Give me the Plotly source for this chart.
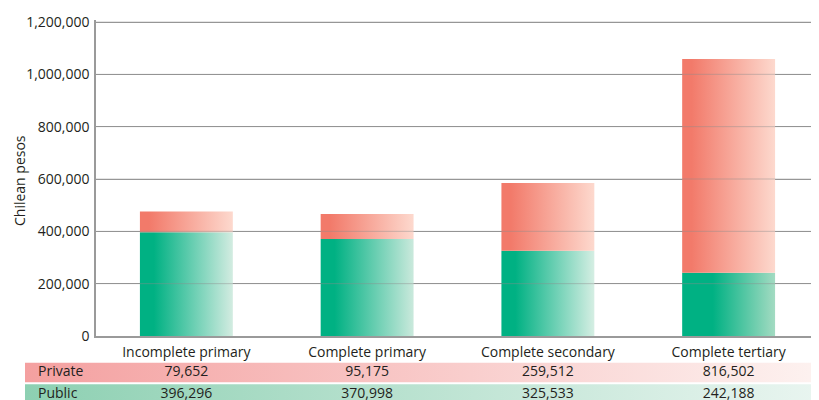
import plotly.graph_objects as go

# ---------------- data ----------------
categories = ["Incomplete primary", "Complete primary", "Complete secondary", "Complete tertiary"]
private = [79652, 95175, 259512, 816502]
public = [396296, 370998, 325533, 242188]
y_ticks = [0, 200000, 400000, 600000, 800000, 1000000, 1200000]
row_labels = ["Private", "Public"]
y_title = "Chilean pesos"

# ---------------- layout constants ----------------
# The page body has an 8px default margin; the figure is sized/offset to compensate.
OFF = 8
W, H = 819 - OFF, 400 - OFF
PLOT_L = 96 - OFF
PLOT_TOP = 22 - OFF
PLOT_BOTTOM = 336 - OFF
TOP_PAD = 2  # px of headroom so the top gridline is not clipped
TABLE_L = 25 - OFF
n = len(categories)
xr = [-0.5, n - 0.5]
px_per_unit = (W - PLOT_L) / n
x2r = [xr[0] - PLOT_L / px_per_unit, xr[1]]
table_x0 = xr[0] - (PLOT_L - TABLE_L) / px_per_unit
half = 0.257
y_top = y_ticks[-1] * (1 + TOP_PAD / (PLOT_BOTTOM - PLOT_TOP))

ROW_PITCH = 21.5
ROW0_CENTER = 372.5 - OFF
y2_top = -(ROW0_CENTER - PLOT_BOTTOM) / ROW_PITCH
y2_bot = (H - ROW0_CENTER) / ROW_PITCH
row_half = 0.45

FONT = "Open Sans"
TXT = "#231f20"
GRID = "#9a9a9a"

green_scales = [
    [[0, "#00b183"], [0.15, "#00b183"], [1, "#d3ece1"]],
    [[0, "#00b183"], [0.15, "#00b183"], [1, "#cae9dc"]],
    [[0, "#00b183"], [0.15, "#00b183"], [1, "#d5eee3"]],
    [[0, "#00b183"], [0.33, "#00b183"], [1, "#a3dbc2"]],
]
red_scale = [[0, "#f27a6a"], [0.1, "#f27a6a"], [1, "#fdd9ce"]]
table_scales = [
    [[0, "#f4a0a0"], [1, "#fdf2f0"]],
    [[0, "#8dd0b2"], [1, "#e9f5f0"]],
]

fig = go.Figure()

# bars as gradient-filled polygons on a numeric category axis
for i, (pu, pr) in enumerate(zip(public, private)):
    xs = [i - half, i + half, i + half, i - half, i - half]
    fig.add_trace(go.Scatter(
        x=xs, y=[0, 0, pu, pu, 0], fill="toself", mode="none",
        fillgradient=dict(type="horizontal", colorscale=green_scales[i]),
        hoverinfo="skip", showlegend=False))
    fig.add_trace(go.Scatter(
        x=xs, y=[pu, pu, pu + pr, pu + pr, pu], fill="toself", mode="none",
        fillgradient=dict(type="horizontal", colorscale=red_scale),
        hoverinfo="skip", showlegend=False))

# table rows
table_values = [private, public]
for r, (lab, vals) in enumerate(zip(row_labels, table_values)):
    xs = [table_x0, x2r[1], x2r[1], table_x0, table_x0]
    ys = [r - row_half, r - row_half, r + row_half, r + row_half, r - row_half]
    fig.add_trace(go.Scatter(
        x=xs, y=ys, xaxis="x2", yaxis="y2", fill="toself", mode="none",
        fillgradient=dict(type="horizontal", colorscale=table_scales[r]),
        hoverinfo="skip", showlegend=False))
    fig.add_trace(go.Scatter(
        x=[table_x0 + 13 / px_per_unit], y=[r], xaxis="x2", yaxis="y2",
        mode="text", text=[lab], textposition="middle right",
        textfont=dict(family=FONT, size=14, color=TXT),
        hoverinfo="skip", showlegend=False))
    fig.add_trace(go.Scatter(
        x=list(range(n)), y=[r] * n, xaxis="x2", yaxis="y2",
        mode="text", text=[f"{v:,}" for v in vals], textposition="middle center",
        textfont=dict(family=FONT, size=14, color=TXT),
        hoverinfo="skip", showlegend=False))

# gridlines drawn faintly above the bars
shapes = []
for t in y_ticks[1:]:
    shapes.append(dict(type="line", xref="x", yref="y", x0=xr[0], x1=xr[1], y0=t, y1=t,
                       line=dict(color="rgba(140,140,140,0.45)", width=1), layer="above"))

fig.update_layout(
    template="none",
    width=W, height=H, autosize=False,
    margin=dict(l=0, r=0, t=0, b=0, pad=0, autoexpand=False),
    paper_bgcolor="white", plot_bgcolor="white",
    font=dict(family=FONT, size=13, color=TXT),
    shapes=shapes,
    xaxis=dict(
        domain=[PLOT_L / W, 1], range=xr, tickmode="array", automargin=False,
        tickvals=list(range(n)), ticktext=categories,
        showgrid=False, zeroline=False, showline=True,
        linecolor=GRID, linewidth=2, ticks="", ticklabelstandoff=2,
        tickfont=dict(family=FONT, size=14, color=TXT), fixedrange=True),
    yaxis=dict(
        domain=[(H - PLOT_BOTTOM) / H, (H - (PLOT_TOP - TOP_PAD)) / H], range=[0, y_top],
        tickmode="array", tickvals=y_ticks, tickformat=",d", automargin=False,
        showgrid=True, gridcolor=GRID, gridwidth=1, zeroline=False,
        showline=True, linecolor=GRID, linewidth=1.5, ticks="", ticklabelstandoff=2,
        tickfont=dict(family=FONT, size=14, color=TXT), fixedrange=True),
    xaxis2=dict(domain=[0, 1], range=x2r, visible=False, anchor="y2", fixedrange=True,
                automargin=False),
    yaxis2=dict(domain=[0, (H - PLOT_BOTTOM) / H], range=[y2_bot, y2_top],
                visible=False, anchor="x2", fixedrange=True, automargin=False),
    annotations=[dict(text=y_title, xref="paper", yref="paper",
                      x=(19 - OFF) / W, y=(H - (181 - OFF)) / H, textangle=-90,
                      xanchor="center", yanchor="middle", showarrow=False,
                      font=dict(family=FONT, size=14, color=TXT))],
)

fig.write_html("out.html")
